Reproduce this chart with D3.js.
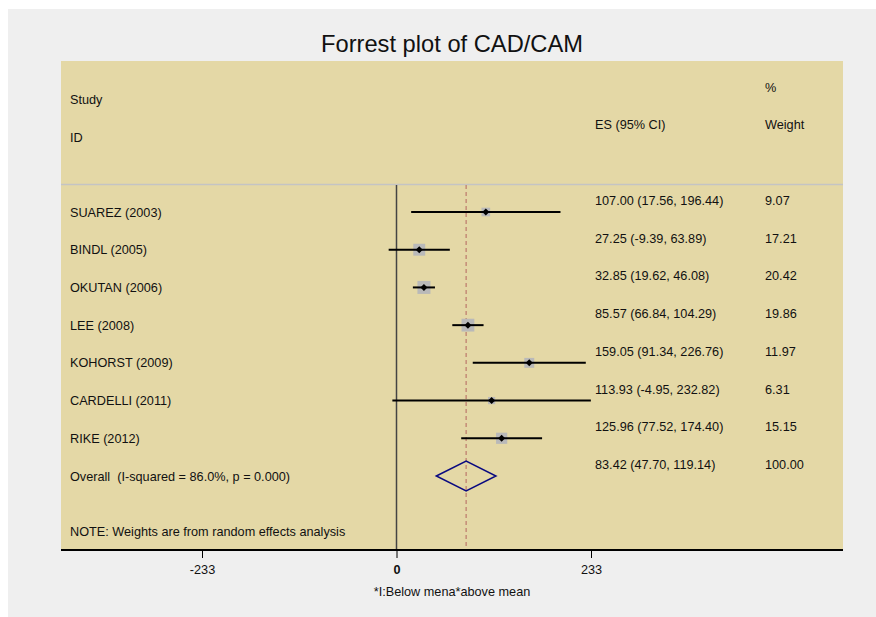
<!DOCTYPE html>
<html>
<head>
<meta charset="utf-8">
<script src="https://cdn.jsdelivr.net/npm/d3@7"></script>
<style>
  body { margin: 0; background: #fff; }
  text { font-family: "Liberation Sans", Arial, sans-serif; fill: #111; white-space: pre; }
</style>
</head>
<body>
<div id="chart"></div>
<script>
// study data
var studies = ["SUAREZ (2003)", "BINDL (2005)", "OKUTAN (2006)", "LEE (2008)",
  "KOHORST (2009)", "CARDELLI (2011)", "RIKE (2012)"];
var es = [107.00, 27.25, 32.85, 85.57, 159.05, 113.93, 125.96];
var lower = [17.56, -9.39, 19.62, 66.84, 91.34, -4.95, 77.52];
var upper = [196.44, 63.89, 46.08, 104.29, 226.76, 232.82, 174.40];
var weights = [9.07, 17.21, 20.42, 19.86, 11.97, 6.31, 15.15];

// pooled estimate
var overall = { label: "Overall  (I-squared = 86.0%, p = 0.000)", es: 83.42, lo: 47.70, hi: 119.14, w: 100.00 };

var tickValues = [-233, 0, 233];

var svgWidth = 876;
var svgHeight = 617;
var fs = "12.7px";

var panel = { left: 61, right: 843, top: 61, bottom: 550 };

var svg = d3.select("#chart")
  .append("svg")
  .attr("width", svgWidth)
  .attr("height", svgHeight);

// outer grey background
svg.append("rect")
  .attr("x", 8).attr("y", 9)
  .attr("width", svgWidth - 8).attr("height", svgHeight - 9)
  .attr("fill", "#efefef");

// plot panel
svg.append("rect")
  .attr("x", panel.left).attr("y", panel.top)
  .attr("width", panel.right - panel.left).attr("height", panel.bottom - panel.top)
  .attr("fill", "#e4d8a6");

svg.append("text")
  .attr("x", (panel.left + panel.right) / 2)
  .attr("y", 52)
  .attr("text-anchor", "middle")
  .style("font-size", "23.7px")
  .text("Forrest plot of CAD/CAM");

// header
var header = [
  { t: "Study", x: 70, y: 104 },
  { t: "ID", x: 70, y: 142 },
  { t: "ES (95% CI)", x: 595, y: 129 },
  { t: "%", x: 765, y: 92 },
  { t: "Weight", x: 765, y: 129 }
];
svg.selectAll(".hdr")
  .data(header)
  .enter()
  .append("text")
  .attr("class", "hdr")
  .attr("x", d => d.x)
  .attr("y", d => d.y)
  .style("font-size", fs)
  .text(d => d.t);

// separator line below header
svg.append("line")
  .attr("x1", panel.left).attr("x2", panel.right)
  .attr("y1", 184.5).attr("y2", 184.5)
  .attr("stroke", "#c4c4c4")
  .attr("stroke-width", 1.5);

// scales
var xScale = d3.scaleLinear()
  .domain([-233, 233])
  .range([202, 591]);

var rowIndex = d3.range(studies.length + 1);
var yScale = d3.scalePoint()
  .domain(rowIndex)
  .range([212, 476]);

var boxScale = d3.scaleSqrt()
  .domain([0, 20.42])
  .range([0, 13]);

// zero line
svg.append("line")
  .attr("x1", xScale(0)).attr("x2", xScale(0))
  .attr("y1", 185).attr("y2", panel.bottom)
  .attr("stroke", "#444")
  .attr("stroke-width", 1.5);

// overall effect dashed line
svg.append("line")
  .attr("x1", xScale(overall.es)).attr("x2", xScale(overall.es))
  .attr("y1", 185).attr("y2", panel.bottom)
  .attr("stroke", "#c08070")
  .attr("stroke-width", 1.3)
  .attr("stroke-dasharray", "4,3");

var rows = studies.map(function (s, i) {
  return { study: s, es: es[i], lo: lower[i], hi: upper[i], w: weights[i], i: i };
});

var rowG = svg.selectAll(".row")
  .data(rows)
  .enter()
  .append("g")
  .attr("class", "row");

// weight boxes
rowG.append("rect")
  .attr("x", d => xScale(d.es) - boxScale(d.w) / 2)
  .attr("y", d => yScale(d.i) - boxScale(d.w) / 2)
  .attr("width", d => boxScale(d.w))
  .attr("height", d => boxScale(d.w))
  .attr("fill", "#b9b9b9");

// CI lines
rowG.append("line")
  .attr("x1", d => xScale(d.lo))
  .attr("x2", d => xScale(d.hi))
  .attr("y1", d => yScale(d.i))
  .attr("y2", d => yScale(d.i))
  .attr("stroke", "#000")
  .attr("stroke-width", 2);

// point estimates
rowG.append("path")
  .attr("transform", d => `translate(${xScale(d.es)},${yScale(d.i)})`)
  .attr("d", "M0,-3.5L3.5,0L0,3.5L-3.5,0Z")
  .attr("fill", "#000");

// study labels
rowG.append("text")
  .attr("x", 70)
  .attr("y", d => yScale(d.i) + 4.5)
  .style("font-size", fs)
  .text(d => d.study);

// ES (95% CI) text
rowG.append("text")
  .attr("x", 595)
  .attr("y", d => yScale(d.i) - 7)
  .style("font-size", fs)
  .text(d => `${d.es.toFixed(2)} (${d.lo.toFixed(2)}, ${d.hi.toFixed(2)})`);

rowG.append("text")
  .attr("x", 765)
  .attr("y", d => yScale(d.i) - 7)
  .style("font-size", fs)
  .text(d => d.w.toFixed(2));

// overall row
var oy = yScale(studies.length);
svg.append("path")
  .attr("d", `M${xScale(overall.lo)},${oy}L${xScale(overall.es)},${oy - 15}L${xScale(overall.hi)},${oy}L${xScale(overall.es)},${oy + 15}Z`)
  .attr("fill", "none")
  .attr("stroke", "#0a0a80")
  .attr("stroke-width", 1.5);

svg.append("text")
  .attr("x", 70).attr("y", oy + 4.5)
  .style("font-size", fs)
  .text(overall.label);

svg.append("text")
  .attr("x", 595).attr("y", oy - 7)
  .style("font-size", fs)
  .text(`${overall.es.toFixed(2)} (${overall.lo.toFixed(2)}, ${overall.hi.toFixed(2)})`);

svg.append("text")
  .attr("x", 765).attr("y", oy - 7)
  .style("font-size", fs)
  .text(overall.w.toFixed(2));

svg.append("text")
  .attr("x", 70).attr("y", 536)
  .style("font-size", fs)
  .text("NOTE: Weights are from random effects analysis");

// x axis
var xAxis = svg.append("g")
  .attr("transform", `translate(0, ${panel.bottom})`)
  .call(d3.axisBottom(xScale).tickValues(tickValues).tickSize(8).tickPadding(7).tickFormat(d => String(d)));

xAxis.select(".domain").remove();
xAxis.selectAll(".tick line").attr("stroke", "#000").attr("stroke-width", 1);
xAxis.selectAll(".tick text")
  .style("font-size", fs)
  .style("font-family", "Liberation Sans, Arial, sans-serif")
  .attr("fill", "#111")
  .style("font-weight", d => d === 0 ? "bold" : "normal");

svg.append("line")
  .attr("x1", panel.left).attr("x2", panel.right)
  .attr("y1", panel.bottom).attr("y2", panel.bottom)
  .attr("stroke", "#000")
  .attr("stroke-width", 2);

svg.append("text")
  .attr("x", (panel.left + panel.right) / 2)
  .attr("y", 596)
  .attr("text-anchor", "middle")
  .style("font-size", fs)
  .text("*I:Below mena*above mean");
</script>
</body>
</html>
